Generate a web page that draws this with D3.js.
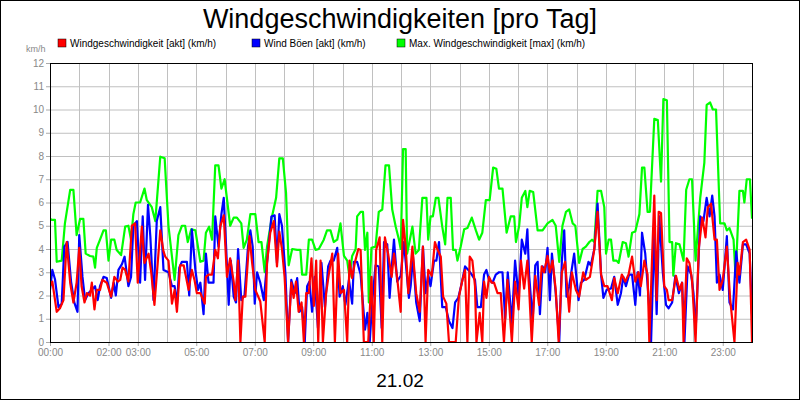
<!DOCTYPE html>
<html><head><meta charset="utf-8">
<script src="https://cdn.jsdelivr.net/npm/d3@7"></script>
<style>body{margin:0;background:#fff}svg{display:block;font-family:"Liberation Sans",Arial,sans-serif}</style>
</head><body><svg id="c" width="800" height="400"></svg>
<script>
const title = "Windgeschwindigkeiten [pro Tag]";
const dateLabel = "21.02";
const unitLabel = "km/h";
const seriesNames = ["Windgeschwindigkeit [akt] (km/h)", "Wind Böen [akt] (km/h)", "Max. Windgeschwindigkeit [max] (km/h)"];
const seriesColors = ["#ff0000", "#0000ff", "#00ff00"];
const yTicks = [0,1,2,3,4,5,6,7,8,9,10,11,12];
const xTickHours = [0,2,3,5,7,9,11,13,15,17,19,21,23];
const xTickLabels = ["00:00","02:00","03:00","05:00","07:00","09:00","11:00","13:00","15:00","17:00","19:00","21:00","23:00"];

// [hour, km/h]
const maxWind = [[0,5.3],[0.06,5.25],[0.17,5.25],[0.23,3.45],[0.40,3.5],[0.51,5.1],[0.69,6.54],[0.80,6.54],[0.91,4.6],[1.03,5.3],[1.14,5.3],[1.22,3.8],[1.37,3.7],[1.48,3.67],[1.54,3.2],[1.60,4.05],[1.71,4.4],[1.83,4.8],[1.91,4.8],[2.00,3.5],[2.09,4.4],[2.20,4.4],[2.28,3.96],[2.43,3.74],[2.57,4.96],[2.68,5.0],[2.77,4.4],[2.85,5.5],[2.93,6.0],[3.08,6.0],[3.23,6.6],[3.31,6.1],[3.48,5.8],[3.60,5.2],[3.77,7.97],[3.92,7.9],[4.05,5.0],[4.26,2.67],[4.39,4.6],[4.51,5.0],[4.62,5.0],[4.71,4.3],[4.83,4.85],[4.97,4.8],[5.14,3.45],[5.25,3.5],[5.33,4.7],[5.44,4.96],[5.54,4.4],[5.65,7.6],[5.76,7.6],[5.86,6.6],[5.97,7.0],[6.16,5.0],[6.28,5.35],[6.39,5.35],[6.54,5.1],[6.62,4.05],[6.73,4.4],[6.85,5.5],[7.02,5.5],[7.13,4.3],[7.23,4.3],[7.34,3.0],[7.42,4.1],[7.59,5.4],[7.73,6.2],[7.84,7.9],[7.96,7.9],[8.07,6.4],[8.16,3.3],[8.28,4.0],[8.45,3.96],[8.56,3.96],[8.62,2.9],[8.76,2.9],[8.85,4.4],[8.96,4.4],[9.08,3.96],[9.19,4.0],[9.36,4.4],[9.47,4.8],[9.59,4.8],[9.70,4.3],[9.82,4.4],[9.93,5.1],[10.05,3.7],[10.16,3.5],[10.24,2.8],[10.33,3.7],[10.45,4.0],[10.50,5.4],[10.62,5.6],[10.70,5.6],[10.77,3.96],[10.85,4.7],[10.90,1.7],[10.99,4.05],[11.13,4.1],[11.24,5.6],[11.36,5.7],[11.47,7.6],[11.59,7.6],[11.70,5.7],[11.82,4.96],[11.93,4.4],[11.99,4.0],[12.07,8.3],[12.16,8.3],[12.21,3.8],[12.39,4.96],[12.50,3.8],[12.61,3.96],[12.73,6.2],[12.87,6.2],[12.93,4.4],[13.01,5.4],[13.09,5.4],[13.19,6.2],[13.28,6.2],[13.41,4.96],[13.51,4.2],[13.59,6.2],[13.70,6.2],[13.78,3.96],[13.87,3.96],[13.93,3.5],[14.04,4.1],[14.16,4.85],[14.27,4.9],[14.42,5.35],[14.56,4.8],[14.67,4.4],[14.78,4.7],[14.90,6.1],[15.03,6.1],[15.15,7.5],[15.26,7.45],[15.35,6.6],[15.47,6.6],[15.61,4.7],[15.75,5.4],[15.87,5.4],[15.93,4.3],[16.04,5.0],[16.13,6.2],[16.25,6.5],[16.32,5.8],[16.40,6.5],[16.52,6.45],[16.67,4.8],[16.84,4.8],[17.01,5.1],[17.18,5.25],[17.29,5.0],[17.41,3.45],[17.52,5.0],[17.64,5.6],[17.75,5.7],[17.87,5.1],[17.96,5.0],[18.09,3.4],[18.21,4.0],[18.32,4.1],[18.44,4.3],[18.53,4.4],[18.61,4.3],[18.72,6.5],[18.84,6.5],[18.95,5.8],[19.01,3.8],[19.10,4.4],[19.18,4.4],[19.26,3.5],[19.37,3.5],[19.44,3.4],[19.58,4.3],[19.69,4.25],[19.78,3.67],[19.90,4.7],[20.01,4.75],[20.15,5.5],[20.24,7.5],[20.32,7.5],[20.43,5.6],[20.51,5.6],[20.66,9.6],[20.78,9.55],[20.89,6.9],[20.97,10.45],[21.09,10.4],[21.18,4.3],[21.27,4.3],[21.31,2.85],[21.40,4.25],[21.52,4.2],[21.66,3.5],[21.75,6.55],[21.86,7.0],[21.95,7.0],[22.07,3.5],[22.23,6.2],[22.37,7.7],[22.45,10.2],[22.57,10.3],[22.66,10.0],[22.77,10.0],[22.91,5.1],[23.06,5.1],[23.14,4.8],[23.23,4.9],[23.37,4.4],[23.44,2.8],[23.57,6.5],[23.69,6.5],[23.74,6.0],[23.82,7.0],[23.93,7.0],[24.0,5.3]];

const gusts = [[0,2.24],[0.08,3.1],[0.17,2.7],[0.29,1.5],[0.40,1.65],[0.49,4.1],[0.60,4.3],[0.72,2.6],[0.83,1.7],[0.94,1.3],[1.0,4.6],[1.11,2.8],[1.20,1.8],[1.31,2.1],[1.43,2.25],[1.54,2.4],[1.63,1.8],[1.71,2.4],[1.83,2.8],[1.94,2.75],[2.09,1.9],[2.18,2.55],[2.25,2.0],[2.34,3.1],[2.46,3.35],[2.55,3.67],[2.68,2.4],[2.77,2.8],[2.85,5.0],[2.97,5.2],[3.08,2.55],[3.17,5.4],[3.25,2.67],[3.35,5.9],[3.43,4.55],[3.54,1.8],[3.65,5.2],[3.77,5.8],[3.88,3.1],[4.05,3.0],[4.17,2.4],[4.26,2.4],[4.34,1.6],[4.42,3.2],[4.51,3.45],[4.68,3.45],[4.76,2.0],[4.85,4.85],[4.97,3.1],[5.06,2.24],[5.14,2.55],[5.25,1.2],[5.33,3.8],[5.42,2.55],[5.59,2.55],[5.65,5.4],[5.76,4.1],[5.86,5.5],[5.94,6.2],[6.02,4.1],[6.11,1.6],[6.18,3.5],[6.28,1.95],[6.36,1.7],[6.43,4.0],[6.54,1.8],[6.65,2.0],[6.77,4.1],[6.85,4.8],[6.93,4.1],[7.0,1.65],[7.08,3.0],[7.19,2.55],[7.31,1.8],[7.42,3.4],[7.57,5.4],[7.68,5.45],[7.76,3.4],[7.84,5.5],[7.93,5.0],[8.05,2.9],[8.14,0],[8.25,2.67],[8.37,2.1],[8.45,2.75],[8.53,1.3],[8.62,1.5],[8.71,0],[8.79,2.4],[8.87,2.6],[8.96,1.3],[9.05,2.8],[9.16,0.6],[9.28,3.4],[9.40,1.5],[9.51,3.25],[9.59,3.5],[9.70,3.5],[9.82,4.05],[9.90,1.95],[10.01,2.4],[10.10,1.6],[10.22,2.67],[10.33,1.65],[10.39,3.45],[10.50,3.45],[10.62,2.9],[10.77,0.53],[10.85,1.25],[10.93,0],[11.02,1.8],[11.13,3.3],[11.24,3.25],[11.34,0.6],[11.42,4.3],[11.53,4.2],[11.61,1.9],[11.70,3.5],[11.76,4.4],[11.87,2.6],[11.99,2.85],[12.10,4.3],[12.27,1.9],[12.33,2.4],[12.41,3.67],[12.52,1.7],[12.64,0.9],[12.75,4.1],[12.84,2.1],[12.93,2.9],[13.01,2.4],[13.13,3.5],[13.21,3.5],[13.30,4.3],[13.41,1.5],[13.53,1.5],[13.64,0.9],[13.76,0.6],[13.85,1.7],[13.96,1.9],[14.08,2.55],[14.19,3.25],[14.30,3.1],[14.42,2.9],[14.53,2.67],[14.61,1.5],[14.73,1.5],[14.84,2.9],[14.92,3.1],[15.01,2.67],[15.13,2.55],[15.24,2.9],[15.35,3.0],[15.47,3.0],[15.56,1.0],[15.65,3.0],[15.79,0.8],[15.90,3.5],[16.02,1.95],[16.13,4.4],[16.25,3.8],[16.32,4.85],[16.38,2.9],[16.50,0.9],[16.59,3.3],[16.67,3.45],[16.75,1.2],[16.84,3.25],[16.93,3.0],[17.01,4.05],[17.09,1.8],[17.16,3.8],[17.29,2.1],[17.41,0],[17.50,3.5],[17.58,4.8],[17.66,1.95],[17.75,2.4],[17.92,3.8],[18.07,1.8],[18.15,2.55],[18.26,2.67],[18.41,3.45],[18.49,3.3],[18.61,4.0],[18.72,5.95],[18.84,2.9],[18.92,1.9],[19.03,2.24],[19.18,2.3],[19.29,2.8],[19.41,1.6],[19.52,2.1],[19.60,2.8],[19.69,2.4],[19.80,2.9],[19.90,2.9],[20.01,1.6],[20.09,3.0],[20.17,2.0],[20.24,4.7],[20.35,3.8],[20.47,1.8],[20.55,0],[20.66,4.8],[20.74,1.2],[20.83,5.4],[20.95,3.0],[21.06,1.6],[21.15,1.45],[21.27,1.7],[21.38,2.85],[21.50,2.1],[21.61,2.55],[21.69,0],[21.80,3.25],[21.92,2.9],[22.0,2.1],[22.07,0.4],[22.15,2.8],[22.23,5.4],[22.34,5.2],[22.45,6.2],[22.55,5.4],[22.64,6.3],[22.72,5.4],[22.80,2.55],[22.89,2.9],[23.0,2.24],[23.14,4.55],[23.23,1.7],[23.35,1.4],[23.46,3.9],[23.57,2.55],[23.69,4.2],[23.80,4.2],[23.92,3.8],[24.0,1.2]];

const wind = [[0,2.4],[0.08,2.6],[0.23,1.3],[0.34,1.45],[0.46,1.8],[0.57,4.3],[0.69,2.55],[0.80,1.7],[0.91,2.55],[1.0,4.05],[1.08,2.4],[1.18,1.7],[1.26,2.1],[1.37,2.0],[1.43,2.55],[1.52,1.4],[1.60,2.24],[1.71,2.24],[1.79,2.67],[1.94,2.55],[2.09,1.95],[2.20,2.8],[2.32,2.6],[2.40,2.67],[2.48,3.2],[2.57,3.1],[2.68,2.6],[2.80,5.0],[2.91,5.1],[3.0,2.55],[3.14,4.96],[3.23,3.4],[3.37,3.8],[3.46,3.0],[3.57,1.6],[3.77,4.8],[3.88,3.9],[3.94,3.67],[4.05,3.5],[4.17,1.65],[4.26,2.24],[4.34,1.3],[4.45,3.3],[4.57,3.3],[4.74,2.24],[4.85,3.1],[4.94,2.67],[5.02,2.1],[5.14,2.1],[5.29,1.65],[5.33,2.8],[5.42,2.9],[5.54,2.9],[5.65,3.96],[5.74,3.6],[5.82,4.96],[5.94,5.45],[6.05,2.8],[6.16,3.6],[6.28,2.6],[6.34,1.8],[6.43,3.5],[6.51,0],[6.59,1.95],[6.68,1.95],[6.82,4.55],[6.91,3.4],[7.02,2.24],[7.19,1.74],[7.34,0],[7.42,3.4],[7.53,4.7],[7.65,5.2],[7.76,3.25],[7.84,4.75],[7.93,4.0],[8.02,2.8],[8.14,0],[8.25,2.55],[8.33,1.9],[8.41,2.6],[8.50,1.3],[8.60,1.7],[8.68,0],[8.76,2.1],[8.85,2.1],[8.94,3.6],[9.02,1.55],[9.10,3.5],[9.17,0],[9.25,3.5],[9.33,0],[9.44,2.1],[9.53,2.9],[9.65,3.8],[9.74,0],[9.85,3.8],[9.93,2.1],[10.05,2.24],[10.16,0],[10.24,3.5],[10.33,2.75],[10.42,3.4],[10.54,4.0],[10.62,3.96],[10.73,0],[10.88,0],[10.99,2.8],[11.07,0],[11.15,3.96],[11.27,4.5],[11.36,0],[11.45,4.5],[11.56,3.8],[11.68,2.8],[11.76,3.8],[11.87,2.75],[11.99,1.3],[12.07,5.25],[12.16,4.1],[12.25,2.1],[12.39,4.1],[12.52,2.1],[12.64,1.3],[12.75,4.1],[12.84,0],[12.93,3.1],[13.05,2.85],[13.16,4.3],[13.24,4.0],[13.36,3.67],[13.44,1.95],[13.55,1.65],[13.64,0],[13.87,0],[13.98,1.95],[14.10,2.67],[14.19,3.1],[14.27,0],[14.35,3.67],[14.44,3.5],[14.53,2.4],[14.58,0],[14.69,1.25],[14.78,0],[14.84,2.6],[14.92,1.9],[15.01,2.8],[15.10,2.55],[15.18,2.55],[15.30,2.1],[15.41,2.1],[15.52,0],[15.64,2.67],[15.79,0],[15.90,2.6],[16.02,1.4],[16.10,3.5],[16.21,2.3],[16.32,3.5],[16.38,2.3],[16.47,0],[16.59,2.85],[16.72,1.6],[16.81,3.25],[16.89,3.0],[17.01,3.7],[17.09,3.0],[17.18,3.5],[17.29,2.24],[17.39,0],[17.50,3.0],[17.61,3.45],[17.75,1.3],[17.84,3.0],[17.98,2.24],[18.09,1.95],[18.23,3.0],[18.32,2.67],[18.46,2.8],[18.61,4.0],[18.72,5.6],[18.84,2.9],[18.95,2.4],[19.06,2.4],[19.21,1.8],[19.29,2.75],[19.41,2.1],[19.55,2.9],[19.67,2.6],[19.78,2.9],[19.90,3.67],[20.01,2.6],[20.12,3.0],[20.20,2.4],[20.32,3.5],[20.43,2.9],[20.49,0],[20.58,3.5],[20.66,6.3],[20.74,1.8],[20.81,5.6],[20.89,5.55],[21.0,2.4],[21.09,2.24],[21.15,1.8],[21.27,1.8],[21.40,2.85],[21.52,2.24],[21.61,2.55],[21.66,0],[21.77,3.6],[21.86,3.4],[21.95,2.67],[22.07,0],[22.18,4.0],[22.30,5.35],[22.41,4.5],[22.49,5.8],[22.60,5.95],[22.72,4.4],[22.80,4.4],[22.89,2.24],[23.0,2.67],[23.14,4.1],[23.25,1.9],[23.40,0],[23.51,3.4],[23.57,2.9],[23.69,4.3],[23.80,4.4],[23.92,3.96],[24.0,0]];

const svg = d3.select("#c");
const W = 800, H = 400;
const m = {l:50, r:48, t:63, b:58};
const x = d3.scaleLinear().domain([0,24]).range([m.l, W-m.r]);
const y = d3.scaleLinear().domain([0,12]).range([H-m.b, m.t]);

svg.append("rect").attr("x",0.5).attr("y",0.5).attr("width",W-1).attr("height",H-1).attr("fill","#fff").attr("stroke","#000");
svg.append("text").attr("x",400).attr("y",28).attr("text-anchor","middle").attr("font-size",27).attr("fill","#000").text(title);

// legend
const legX = [58, 252, 397];
const legOrder = [0,1,2];
legOrder.forEach((i,k)=>{
  svg.append("rect").attr("x",legX[k]).attr("y",39).attr("width",8).attr("height",8).attr("fill",seriesColors[i]).attr("stroke","#000").attr("stroke-width",0.5);
  svg.append("text").attr("x",legX[k]+12).attr("y",47).attr("font-size",10).attr("fill","#000").text(seriesNames[i]);
});
svg.append("text").attr("x",26).attr("y",52).attr("font-size",9).attr("fill","#888").text(unitLabel);

// grid
const g = svg.append("g");
g.selectAll(".hg").data(yTicks).join("line").attr("x1",m.l).attr("x2",W-m.r).attr("y1",d=>y(d)+0.5).attr("y2",d=>y(d)+0.5).attr("stroke","#c0c0c0");
g.selectAll(".vg").data(d3.range(0,25)).join("line").attr("y1",m.t).attr("y2",H-m.b).attr("x1",d=>Math.round(x(d))+0.5).attr("x2",d=>Math.round(x(d))+0.5).attr("stroke","#c0c0c0");

// axes
const ya = svg.append("g").attr("transform",`translate(${m.l},0)`).call(d3.axisLeft(y).tickValues(yTicks).tickSize(4).tickPadding(2));
ya.select(".domain").remove();
ya.selectAll("line").attr("stroke","#aaa");
ya.selectAll("text").attr("font-size",10).attr("fill","#888").attr("font-family","Liberation Sans, Arial");
const xa = svg.append("g").attr("transform",`translate(0,${H-m.b})`).call(d3.axisBottom(x).tickValues(xTickHours).tickFormat((d,i)=>xTickLabels[i]).tickSize(4).tickPadding(3));
xa.select(".domain").remove();
xa.selectAll("line").attr("stroke","#aaa");
xa.selectAll("text").attr("font-size",10).attr("fill","#888").attr("font-family","Liberation Sans, Arial");

// lines
const clip = svg.append("clipPath").attr("id","cp").append("rect").attr("x",m.l).attr("y",m.t-2).attr("width",W-m.l-m.r).attr("height",H-m.t-m.b+2);
const line = d3.line().x(d=>x(d[0])).y(d=>y(d[1]));
[[maxWind,2],[gusts,1],[wind,0]].forEach(([data,ci])=>{
  svg.append("path").attr("d",line(data)).attr("fill","none").attr("stroke",seriesColors[ci]).attr("stroke-width",2.2).attr("stroke-linejoin","round").attr("clip-path","url(#cp)");
});

svg.append("rect").attr("x",m.l+0.5).attr("y",m.t+0.5).attr("width",W-m.l-m.r).attr("height",H-m.t-m.b).attr("fill","none").attr("stroke","#000");
svg.append("text").attr("x",400).attr("y",387).attr("text-anchor","middle").attr("font-size",19).attr("fill","#000").text(dateLabel);
</script></body></html>
